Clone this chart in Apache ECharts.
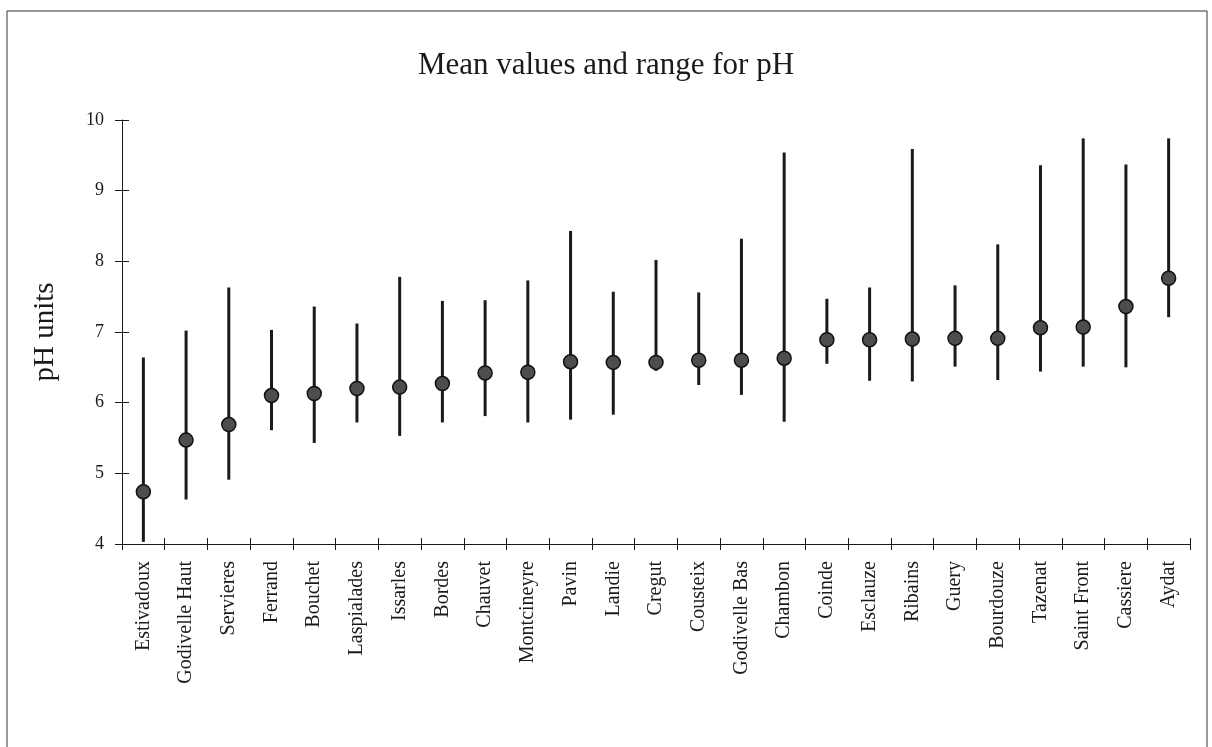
<!DOCTYPE html>
<html>
<head>
<meta charset="utf-8">
<title>Mean values and range for pH</title>
<script src="https://cdn.jsdelivr.net/npm/echarts@6/dist/echarts.min.js"></script>
<style>
  html, body { margin: 0; padding: 0; background: #fff; }
  #chart { width: 1212px; height: 747px; }
</style>
</head>
<body>
<div id="chart"></div>
<script>
// Lakes, ordered by mean pH
const lakes = [
  'Estivadoux', 'Godivelle Haut', 'Servieres', 'Ferrand', 'Bouchet',
  'Laspialades', 'Issarles', 'Bordes', 'Chauvet', 'Montcineyre',
  'Pavin', 'Landie', 'Cregut', 'Cousteix', 'Godivelle Bas',
  'Chambon', 'Coinde', 'Esclauze', 'Ribains', 'Guery',
  'Bourdouze', 'Tazenat', 'Saint Front', 'Cassiere', 'Aydat'
];
const meanPH = [
  4.74, 5.47, 5.69, 6.10, 6.13,
  6.20, 6.22, 6.27, 6.42, 6.43,
  6.58, 6.57, 6.57, 6.60, 6.60,
  6.63, 6.89, 6.89, 6.90, 6.91,
  6.91, 7.06, 7.07, 7.36, 7.76
];
const minPH = [
  4.03, 4.63, 4.91, 5.61, 5.43,
  5.72, 5.53, 5.72, 5.81, 5.72,
  5.76, 5.83, 6.45, 6.25, 6.11,
  5.73, 6.55, 6.31, 6.30, 6.51,
  6.32, 6.44, 6.51, 6.50, 7.21
];
const maxPH = [
  6.64, 7.02, 7.63, 7.03, 7.36,
  7.12, 7.78, 7.44, 7.45, 7.73,
  8.43, 7.57, 8.02, 7.56, 8.32,
  9.54, 7.47, 7.63, 9.59, 7.66,
  8.24, 9.36, 9.74, 9.37, 9.74
];
const yTicks = [4, 5, 6, 7, 8, 9, 10];

const serif = '"Liberation Serif", "DejaVu Serif", serif';
const ink = '#1a1a1a';

const chart = echarts.init(document.getElementById('chart'), null, { renderer: 'canvas' });

const yMin = yTicks[0], yMax = yTicks[yTicks.length - 1];

chart.setOption({
  animation: false,
  backgroundColor: '#fff',
  title: {
    text: 'Mean values and range for pH',
    left: 'center',
    top: 45,
    textStyle: { fontFamily: serif, fontSize: 31, fontWeight: 'normal', color: ink }
  },
  graphic: [{
    type: 'polyline',
    shape: { points: [[7, 760], [7, 11], [1207, 11], [1207, 760]] },
    style: { stroke: '#333', lineWidth: 1, fill: null }
  }],
  grid: { left: 122, right: 22, top: 120, bottom: 203 },
  xAxis: [{
    type: 'category',
    data: lakes,
    boundaryGap: true,
    axisLine: { lineStyle: { color: ink, width: 1 } },
    axisTick: { show: true, interval: 0, length: 6, lineStyle: { color: ink } },
    axisLabel: {
      rotate: 90, interval: 0, margin: 17,
      fontFamily: serif, fontSize: 20, color: ink
    },
    splitLine: { show: false }
  }, {
    // inner half of the crossing ticks
    type: 'category',
    data: lakes,
    position: 'bottom',
    boundaryGap: true,
    axisLine: { show: false },
    axisTick: { show: true, interval: 0, inside: true, length: 6, lineStyle: { color: ink } },
    axisLabel: { show: false, interval: 0 },
    splitLine: { show: false }
  }],
  yAxis: [{
    type: 'value',
    min: yMin, max: yMax, interval: 1,
    name: 'pH units',
    nameLocation: 'middle',
    nameRotate: 90,
    nameGap: 62,
    nameTextStyle: { fontFamily: serif, fontSize: 29, color: ink },
    axisLine: { show: true, lineStyle: { color: ink, width: 1 } },
    axisTick: { show: true, length: 7, lineStyle: { color: ink } },
    axisLabel: { margin: 18, fontFamily: serif, fontSize: 18, color: ink },
    splitLine: { show: false }
  }, {
    // inner half of the crossing ticks
    type: 'value',
    min: yMin, max: yMax, interval: 1,
    position: 'left',
    offset: 0,
    axisLine: { show: false },
    axisTick: { show: true, inside: true, length: 7, lineStyle: { color: ink } },
    axisLabel: { show: false },
    splitLine: { show: false }
  }],
  series: [{
    // vertical range bar from minimum to maximum
    type: 'custom',
    xAxisIndex: 0,
    yAxisIndex: 0,
    data: lakes.map((_, i) => [i, minPH[i], maxPH[i]]),
    renderItem: function (params, api) {
      const lo = api.coord([api.value(0), api.value(1)]);
      const hi = api.coord([api.value(0), api.value(2)]);
      return {
        type: 'line',
        shape: { x1: lo[0], y1: lo[1], x2: hi[0], y2: hi[1] },
        style: { stroke: ink, lineWidth: 3 }
      };
    },
    z: 2
  }, {
    // mean value
    type: 'scatter',
    xAxisIndex: 0,
    yAxisIndex: 0,
    data: meanPH,
    symbol: 'circle',
    symbolSize: 14,
    itemStyle: { color: '#4d4d4d', borderColor: '#111', borderWidth: 1.5, opacity: 1 },
    z: 3
  }]
});
</script>
</body>
</html>
